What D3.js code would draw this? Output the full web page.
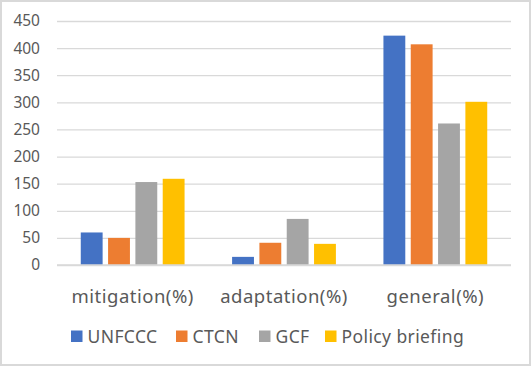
<!DOCTYPE html>
<html><head><meta charset="utf-8">
<script src="https://cdn.jsdelivr.net/npm/d3@7/dist/d3.min.js"></script>
<style>html,body{margin:0;padding:0;background:#fff;}svg{display:block;}</style>
</head><body><svg id="c" width="532" height="367"></svg>
<script>
const categories = ["mitigation(%)", "adaptation(%)", "general(%)"];
const seriesNames = ["UNFCCC", "CTCN", "GCF", "Policy briefing"];
const UNFCCC = [60, 15, 423];
const CTCN = [50, 41, 407];
const GCF = [153, 85, 261];
const PolicyBriefing = [159, 39, 301];
const yTicks = [0, 50, 100, 150, 200, 250, 300, 350, 400, 450];
const colors = ["#4472C4", "#ED7D31", "#A5A5A5", "#FFC000"];
const seriesValues = [UNFCCC, CTCN, GCF, PolicyBriefing];

const svg = d3.select("#c");
const W = 532, H = 367;
const font = "'Noto Sans', sans-serif";
svg.append("rect").attr("x", 1).attr("y", 1).attr("width", W - 3).attr("height", H - 3)
  .attr("fill", "#fff").attr("stroke", "#d9d9d9").attr("stroke-width", 2);

const m = {left: 57, right: 511, top: 21, bottom: 265};
const y = d3.scaleLinear().domain([0, 450]).range([m.bottom, m.top]);
const x0 = d3.scaleBand().domain(categories).range([m.left, m.right]).paddingInner(0).paddingOuter(0);
const x1 = d3.scaleBand().domain(seriesNames).range([0, x0.bandwidth()]).paddingInner(0.2).paddingOuter(0.87);

// gridlines
const yAxis = d3.axisLeft(y).tickValues(yTicks).tickSize(-(m.right - m.left)).tickPadding(17);
const ga = svg.append("g").attr("transform", `translate(${m.left},0)`).call(yAxis);
ga.select(".domain").remove();
ga.selectAll(".tick line").attr("stroke", "#d9d9d9").attr("stroke-width", 1.3);
ga.selectAll(".tick text").attr("fill", "#595959").style("font-family", font).style("font-size", "15.5px");

const rows = categories.map((c, i) => ({c, vals: seriesNames.map((s, j) => ({s, v: seriesValues[j][i], j}))}));
const g = svg.append("g");
g.selectAll("g.grp").data(rows).join("g").attr("class", "grp")
  .attr("transform", d => `translate(${x0(d.c)},0)`)
  .selectAll("rect").data(d => d.vals).join("rect")
  .attr("x", d => x1(d.s)).attr("width", x1.bandwidth())
  .attr("y", d => y(d.v)).attr("height", d => y(0) - y(d.v))
  .attr("fill", d => colors[d.j]);

// baseline
svg.append("line").attr("x1", m.left).attr("x2", m.right).attr("y1", y(0)).attr("y2", y(0))
  .attr("stroke", "#d9d9d9").attr("stroke-width", 1.3);

// category labels
svg.append("g").selectAll("text").data(categories).join("text")
  .attr("x", d => x0(d) + x0.bandwidth() / 2).attr("y", 303)
  .attr("text-anchor", "middle").attr("fill", "#595959")
  .style("font-family", font).style("font-size", "18.5px").style("letter-spacing", "0.5px").text(d => d);

// legend
const legX = [71, 176, 259, 325];
const lg = svg.append("g").selectAll("g").data(seriesNames).join("g")
  .attr("transform", (d, i) => `translate(${legX[i]},0)`);
lg.append("rect").attr("x", 0).attr("y", 330.5).attr("width", 11.5).attr("height", 11.5).attr("fill", (d, i) => colors[i]);
lg.append("text").attr("x", 16.5).attr("y", 343).attr("fill", "#595959")
  .style("font-family", font).style("font-size", "17.5px").style("letter-spacing", "0.4px").text(d => d);
</script></body></html>
